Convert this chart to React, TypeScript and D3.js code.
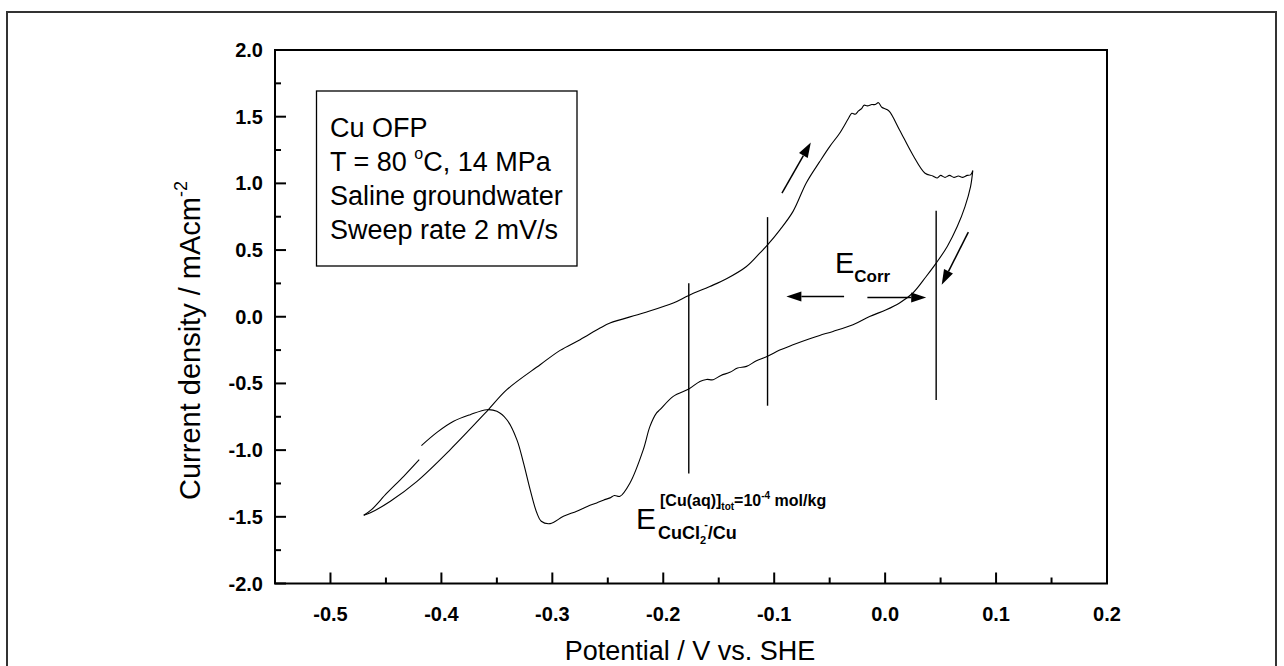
import React from "react";
import * as d3 from "d3";

// ---- Data ----
// Forward (anodic) sweep: potential (V vs. SHE), current density (mA/cm^2)
const forwardPotential = [
  -0.470, -0.464, -0.446, -0.422, -0.392, -0.359, -0.341, -0.311, -0.293, -0.275,
  -0.257, -0.248, -0.218, -0.191, -0.177, -0.158, -0.143, -0.125, -0.113, -0.106,
  -0.095, -0.083, -0.071, -0.059, -0.050, -0.041, -0.033, -0.030, -0.027, -0.024,
  -0.021, -0.019, -0.016, -0.012, -0.009, -0.006, -0.003, 0.001, 0.004, 0.013,
  0.025, 0.036, 0.043, 0.047, 0.050, 0.054, 0.058, 0.062, 0.066, 0.070,
  0.074, 0.077, 0.079,
];
const forwardCurrent = [
  -1.488, -1.470, -1.383, -1.234, -0.996, -0.709, -0.547, -0.360, -0.252, -0.172,
  -0.085, -0.047, 0.028, 0.103, 0.160, 0.227, 0.285, 0.377, 0.477, 0.539,
  0.650, 0.790, 1.005, 1.163, 1.276, 1.376, 1.488, 1.526, 1.518, 1.543,
  1.563, 1.586, 1.581, 1.591, 1.591, 1.605, 1.571, 1.556, 1.538, 1.401,
  1.213, 1.076, 1.056, 1.040, 1.060, 1.045, 1.060, 1.045, 1.055, 1.045,
  1.060, 1.064, 1.096,
];
// Reverse (cathodic) sweep; NaN marks the small gap in the trace
const reversePotential = [
  0.079, 0.077, 0.072, 0.065, 0.056, 0.046, 0.037, 0.025, 0.013, 0.001,
  -0.014, -0.029, -0.047, -0.059, -0.068, -0.083, -0.095, -0.106, -0.116, -0.125,
  -0.133, -0.140, -0.148, -0.155, -0.161, -0.167, -0.177, -0.191, -0.203, -0.206,
  -0.212, -0.218, -0.230, -0.239, -0.244, -0.248, -0.254, -0.260, -0.268, -0.278,
  -0.290, -0.302, -0.310, -0.314, -0.320, -0.326, -0.332, -0.341, -0.350, -0.359,
  -0.374, -0.389, -0.404, -0.418, NaN, -0.420, -0.434, -0.449, -0.463, -0.470,
];
const reverseCurrent = [
  1.096, 0.976, 0.826, 0.676, 0.527, 0.402, 0.302, 0.178, 0.103, 0.052,
  0.002, -0.060, -0.110, -0.140, -0.165, -0.210, -0.250, -0.297, -0.330, -0.372,
  -0.385, -0.417, -0.440, -0.472, -0.470, -0.485, -0.542, -0.597, -0.697, -0.721,
  -0.822, -0.996, -1.246, -1.346, -1.340, -1.358, -1.375, -1.396, -1.420, -1.458,
  -1.496, -1.551, -1.533, -1.470, -1.296, -1.096, -0.921, -0.772, -0.709, -0.697,
  -0.734, -0.784, -0.867, -0.966, NaN, -1.071, -1.196, -1.321, -1.446, -1.488,
];

// Axis ticks
const xTickValues = [-0.5, -0.4, -0.3, -0.2, -0.1, 0.0, 0.1, 0.2];
const xTickLabels = ["-0.5", "-0.4", "-0.3", "-0.2", "-0.1", "0.0", "0.1", "0.2"];
const xMinorValues = [-0.45, -0.35, -0.25, -0.15, -0.05, 0.05, 0.15];
const yTickValues = [-2.0, -1.5, -1.0, -0.5, 0.0, 0.5, 1.0, 1.5, 2.0];
const yTickLabels = ["-2.0", "-1.5", "-1.0", "-0.5", "0.0", "0.5", "1.0", "1.5", "2.0"];
const yMinorValues = [-1.75, -1.25, -0.75, -0.25, 0.25, 0.75, 1.25, 1.75];

// Annotation marks (vertical potential markers: x, yTop, yBottom)
const markerLines = [
  [-0.177, 0.252, -1.176],
  [-0.106, 0.747, -0.667],
  [0.046, 0.794, -0.625],
];
// Arrows: [x1, y1, x2(tip), y2(tip)]
const arrows = [
  [-0.093, 0.927, -0.067, 1.306],
  [0.075, 0.634, 0.051, 0.240],
  [-0.037, 0.152, -0.089, 0.152],
  [-0.016, 0.145, 0.037, 0.145],
];

const legendLines = ["Cu OFP", "T = 80 °C, 14 MPa", "Saline groundwater", "Sweep rate 2 mV/s"];

const W = 1284;
const H = 666;
const FONT = "Arial, 'Liberation Sans', sans-serif";

export default function App() {
  const x = d3.scaleLinear().domain([-0.55, 0.2]).range([275, 1107]);
  const y = d3.scaleLinear().domain([-2, 2]).range([583.5, 50]);

  const fwd = forwardPotential.map((p, i) => [p, forwardCurrent[i]] as [number, number]);
  const rev = reversePotential.map((p, i) => [p, reverseCurrent[i]] as [number, number]);
  const line = d3
    .line<[number, number]>()
    .defined((d) => !isNaN(d[0]) && !isNaN(d[1]))
    .x((d) => x(d[0]))
    .y((d) => y(d[1]))
    .curve(d3.curveCatmullRom.alpha(0.5));

  const [x0, x1] = x.range();
  const [yb, yt] = y.range();
  const majorLen = 11;
  const minorLen = 6;

  const arrowShape = (a: number[]) => {
    const ax1 = x(a[0]), ay1 = y(a[1]), ax2 = x(a[2]), ay2 = y(a[3]);
    const dx = ax2 - ax1, dy = ay2 - ay1;
    const len = Math.hypot(dx, dy);
    const ux = dx / len, uy = dy / len;
    const hl = 15, hw = 5;
    const bx = ax2 - ux * hl, by = ay2 - uy * hl;
    const pts = [
      [ax2, ay2],
      [bx - uy * hw, by + ux * hw],
      [bx + uy * hw, by - ux * hw],
    ];
    return { ax1, ay1, bx, by, pts };
  };

  return (
    <svg
      width={W}
      height={H}
      style={{ position: "absolute", left: 0, top: 0, background: "#fff" }}
      fontFamily={FONT}
    >
      <rect x={0} y={0} width={W} height={H} fill="#fff" />
      {/* outer frame */}
      <rect x={7} y={12} width={1269} height={700} fill="none" stroke="#333" strokeWidth={2} />

      {/* plot frame */}
      <rect x={x0} y={yt} width={x1 - x0} height={yb - yt} fill="none" stroke="#000" strokeWidth={2} />

      {/* y ticks */}
      {yTickValues.map((v, i) => (
        <g key={"yt" + i}>
          <line x1={x0} x2={x0 + majorLen} y1={y(v)} y2={y(v)} stroke="#000" strokeWidth={2} />
          <text x={263} y={y(v)} dy="0.35em" textAnchor="end" fontSize={20} fontWeight="bold">
            {yTickLabels[i]}
          </text>
        </g>
      ))}
      {yMinorValues.map((v, i) => (
        <line key={"ym" + i} x1={x0} x2={x0 + minorLen} y1={y(v)} y2={y(v)} stroke="#000" strokeWidth={2} />
      ))}
      {/* x ticks */}
      {xTickValues.map((v, i) => (
        <g key={"xt" + i}>
          <line x1={x(v)} x2={x(v)} y1={yb} y2={yb - majorLen} stroke="#000" strokeWidth={2} />
          <text x={x(v)} y={621} textAnchor="middle" fontSize={20} fontWeight="bold">
            {xTickLabels[i]}
          </text>
        </g>
      ))}
      {xMinorValues.map((v, i) => (
        <line key={"xm" + i} x1={x(v)} x2={x(v)} y1={yb} y2={yb - minorLen} stroke="#000" strokeWidth={2} />
      ))}

      {/* axis titles */}
      <text x={690} y={660} textAnchor="middle" fontSize={27}>
        Potential / V vs. SHE
      </text>
      <text transform="translate(200,500) rotate(-90)" textAnchor="start" fontSize={29}>
        Current density / mAcm
        <tspan fontSize={18} dy={-13}>-2</tspan>
      </text>

      {/* legend box */}
      <rect x={316.5} y={91} width={260.5} height={175} fill="#fff" stroke="#000" strokeWidth={1.3} />
      {legendLines.map((t, i) => (
        <text key={"lg" + i} x={330} y={137 + i * 34} fontSize={27}>
          {i === 1 ? (
            <>
              T = 80 <tspan fontSize={16} dy={-12}>o</tspan>
              <tspan dy={12}>C, 14 MPa</tspan>
            </>
          ) : (
            t
          )}
        </text>
      ))}

      {/* data */}
      <path d={line(fwd) || ""} fill="none" stroke="#000" strokeWidth={1.1} />
      <path d={line(rev) || ""} fill="none" stroke="#000" strokeWidth={1.1} />

      {/* marker lines */}
      {markerLines.map((m, i) => (
        <line key={"ml" + i} x1={x(m[0])} x2={x(m[0])} y1={y(m[1])} y2={y(m[2])} stroke="#000" strokeWidth={1.4} />
      ))}

      {/* arrows */}
      {arrows.map((a, i) => {
        const s = arrowShape(a);
        return (
          <g key={"ar" + i}>
            <line x1={s.ax1} y1={s.ay1} x2={s.bx} y2={s.by} stroke="#000" strokeWidth={1.5} />
            <polygon points={s.pts.map((p) => p.join(",")).join(" ")} fill="#000" />
          </g>
        );
      })}

      {/* E_Corr label */}
      <text x={835} y={273} fontSize={29}>
        E
        <tspan fontSize={17} fontWeight="bold" dy={9}>Corr</tspan>
      </text>

      {/* E_CuCl2-/Cu label */}
      <text x={636} y={529} fontSize={30}>E</text>
      <text x={660} y={506} fontSize={16} fontWeight="bold">
        [Cu(aq)]
        <tspan fontSize={10} dy={4}>tot</tspan>
        <tspan dy={-4}>=10</tspan>
        <tspan fontSize={10} dy={-7}>-4</tspan>
        <tspan dy={7}> mol/kg</tspan>
      </text>
      <text x={658} y={539} fontSize={18} fontWeight="bold">
        CuCl
        <tspan fontSize={11} dy={5}>2</tspan>
        <tspan fontSize={11} dx={-2} dy={-16}>-</tspan>
        <tspan dy={11}>/Cu</tspan>
      </text>
    </svg>
  );
}
